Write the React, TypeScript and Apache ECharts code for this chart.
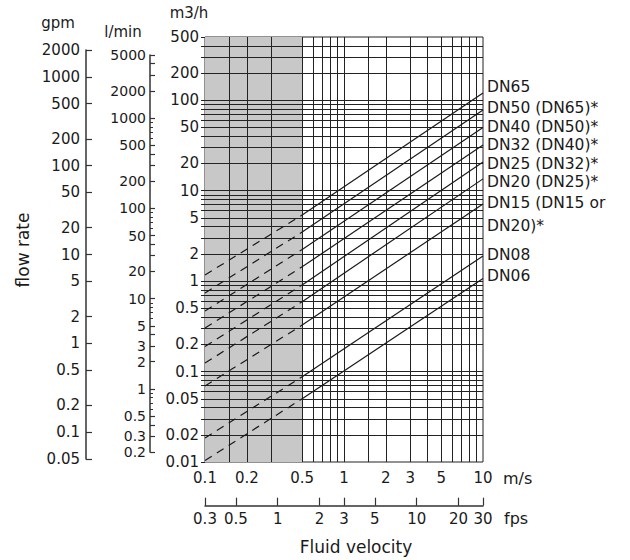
import React, { useEffect, useRef } from "react";
import * as echarts from "echarts";

// ---- data ----
const dnNames = [
  "DN65",
  "DN50 (DN65)*",
  "DN40 (DN50)*",
  "DN32 (DN40)*",
  "DN25 (DN32)*",
  "DN20 (DN25)*",
  "DN15 (DN15 or\nDN20)*",
  "DN08",
  "DN06",
];
// flow rate in m3/h at the velocities 0.1, 0.5 and 10 m/s
const velocities = [0.1, 0.5, 10];
const flowAt01 = [1.17, 0.739, 0.468, 0.303, 0.189, 0.124, 0.0693, 0.01845, 0.0104];
const flowAt05 = [5.38, 3.49, 2.24, 1.44, 0.906, 0.593, 0.327, 0.0877, 0.0501];
const flowAt10 = [120.2, 78.0, 49.9, 32.0, 20.7, 13.5, 7.13, 1.9, 1.07];

const greyZone = [0.1, 0.5];

const msLabels = [0.1, 0.2, 0.5, 1, 2, 3, 5, 10];
const fpsLabels = [0.3, 0.5, 1, 2, 3, 5, 10, 20, 30];
const m3hLabels = [500, 200, 100, 50, 20, 10, 5, 2, 1, 0.5, 0.2, 0.1, 0.05, 0.02, 0.01];
const gpmLabels = [2000, 1000, 500, 200, 100, 50, 20, 10, 5, 2, 1, 0.5, 0.2, 0.1, 0.05];
const lminLabels = [5000, 2000, 1000, 500, 200, 100, 50, 20, 10, 5, 3, 2, 1, 0.5, 0.3, 0.2];
const lminTicks = [5000, 4000, 3000, 2000, 1000, 500, 400, 300, 200, 100, 50, 40, 30, 20, 10, 5, 4, 3, 2, 1, 0.5, 0.4, 0.3, 0.2];
const lminMinorTicks = [900, 800, 700, 600, 90, 80, 70, 60, 9, 8, 7, 6, 0.9, 0.8, 0.7, 0.6];

const xGrid = [0.15, 0.2, 0.3, 0.5, 0.6, 0.7, 0.8, 0.9, 1, 1.5, 2, 3, 4, 5, 6, 7, 8, 9];
const yGrid = [
  0.02, 0.03, 0.04, 0.05, 0.06, 0.07, 0.08, 0.09,
  0.1, 0.2, 0.3, 0.4, 0.5, 0.6, 0.7, 0.8, 0.9,
  1, 2, 3, 4, 5, 6, 7, 8, 9,
  10, 20, 30, 40, 50, 60, 70, 80, 90,
  100, 200, 300, 400,
];
const yTicks = [0.01, ...yGrid, 500];

// ---- styling ----
const FONT = '"DejaVu Sans", "Liberation Sans", sans-serif';
const INK = "#1a1a1a";
const labelDy = [-6, -2, -1, 0, 2, 3, 11, -1, -2];

const fmt = (v: number) => String(parseFloat(Number(v).toPrecision(6)));

export default function App() {
  const ref = useRef<HTMLDivElement>(null);

  useEffect(() => {
    if (!ref.current) return;
    const chart = echarts.init(ref.current, null, { renderer: "svg" });

    const lineSeries: any[] = [];
    dnNames.forEach((name, i) => {
      const multi = name.indexOf("\n") >= 0;
      lineSeries.push({
        type: "line",
        name: name + "-dash",
        xAxisIndex: 0,
        yAxisIndex: 0,
        data: [
          [velocities[0], flowAt01[i]],
          [velocities[1], flowAt05[i]],
        ],
        showSymbol: false,
        symbol: "none",
        silent: true,
        z: 6,
        lineStyle: { color: INK, width: 1.2, type: [8, 6] },
      });
      lineSeries.push({
        type: "line",
        name,
        xAxisIndex: 0,
        yAxisIndex: 0,
        data: [
          [velocities[1], flowAt05[i]],
          [velocities[2], flowAt10[i]],
        ],
        showSymbol: false,
        symbol: "none",
        silent: true,
        z: 6,
        lineStyle: { color: INK, width: 1.2, type: "solid" },
        endLabel: {
          show: true,
          formatter: name,
          color: INK,
          fontSize: 15.5,
          fontFamily: FONT,
          lineHeight: multi ? 23 : 15,
          distance: 4,
          offset: [0, labelDy[i]],
        },
      });
    });

    const tickLabel = {
      color: INK,
      fontSize: 15,
      lineHeight: 14,
      fontFamily: FONT,
      formatter: fmt,
    };
    const axisLineStyle = { color: "#333", width: 1.5 };

    const option: any = {
      animation: false,
      textStyle: { fontFamily: FONT },
      grid: [
        { left: 205, top: 37, width: 278, height: 425, show: true, borderColor: "#222", borderWidth: 1 },
        { left: 86, top: 50, width: 10, height: 409 },
        { left: 150, top: 55, width: 10, height: 397 },
        { left: 205, top: 490, width: 278, height: 15.7 },
      ],
      xAxis: [
        {
          gridIndex: 0,
          type: "log",
          logBase: 10,
          min: 0.1,
          max: 10,
          axisLine: { show: false },
          axisTick: { show: false },
          splitLine: { show: false },
          axisLabel: { ...tickLabel, customValues: msLabels, margin: 9 },
        },
        { gridIndex: 1, type: "value", show: false },
        { gridIndex: 2, type: "value", show: false },
        {
          gridIndex: 3,
          type: "log",
          logBase: 10,
          min: 0.3,
          max: 30,
          position: "bottom",
          axisLine: { show: true, lineStyle: axisLineStyle },
          axisTick: { show: true, inside: true, length: 8, customValues: fpsLabels, lineStyle: { color: "#333", width: 1.2 } },
          splitLine: { show: false },
          axisLabel: { ...tickLabel, customValues: fpsLabels, margin: 6 },
        },
      ],
      yAxis: [
        {
          gridIndex: 0,
          type: "log",
          logBase: 10,
          min: 0.01,
          max: 500,
          axisLine: { show: false },
          axisTick: { show: true, length: 4, customValues: yTicks, lineStyle: { color: "#222", width: 1 } },
          splitLine: { show: false },
          axisLabel: { ...tickLabel, customValues: m3hLabels, margin: 6 },
        },
        {
          gridIndex: 1,
          type: "log",
          logBase: 10,
          min: 0.05,
          max: 2000,
          position: "left",
          axisLine: { show: true, lineStyle: axisLineStyle },
          axisTick: { show: true, inside: true, length: 6, customValues: gpmLabels, lineStyle: { color: "#333", width: 1.2 } },
          splitLine: { show: false },
          axisLabel: { ...tickLabel, customValues: gpmLabels, margin: 6 },
        },
        {
          gridIndex: 2,
          type: "log",
          logBase: 10,
          min: 0.2,
          max: 5000,
          position: "left",
          axisLine: { show: true, lineStyle: axisLineStyle },
          axisTick: { show: true, inside: true, length: 5, customValues: lminTicks, lineStyle: { color: "#333", width: 1.2 } },
          splitLine: { show: false },
          axisLabel: { ...tickLabel, fontSize: 14, lineHeight: 13, customValues: lminLabels, margin: 4 },
        },
        {
          gridIndex: 2,
          type: "log",
          logBase: 10,
          min: 0.2,
          max: 5000,
          position: "left",
          offset: 0,
          axisLine: { show: false },
          axisTick: { show: true, inside: true, length: 3, customValues: lminMinorTicks, lineStyle: { color: "#333", width: 1 } },
          splitLine: { show: false },
          axisLabel: { show: false },
        },
        { gridIndex: 3, type: "value", show: false },
      ],
      graphic: [
        { type: "text", x: 58, y: 23, style: { text: "gpm", fill: INK, font: `15px ${FONT}`, textAlign: "center", textVerticalAlign: "middle" } },
        { type: "text", x: 123, y: 32, style: { text: "l/min", fill: INK, font: `15px ${FONT}`, textAlign: "center", textVerticalAlign: "middle" } },
        { type: "text", x: 189, y: 13, style: { text: "m3/h", fill: INK, font: `15px ${FONT}`, textAlign: "center", textVerticalAlign: "middle" } },
        { type: "text", x: 23, y: 250, rotation: Math.PI / 2, style: { text: "flow rate", fill: INK, font: `17px ${FONT}`, textAlign: "center", textVerticalAlign: "middle" } },
        { type: "text", x: 503, y: 478, style: { text: "m/s", fill: INK, font: `16px ${FONT}`, textAlign: "left", textVerticalAlign: "middle" } },
        { type: "text", x: 504, y: 518, style: { text: "fps", fill: INK, font: `16px ${FONT}`, textAlign: "left", textVerticalAlign: "middle" } },
        { type: "text", x: 356, y: 547, style: { text: "Fluid velocity", fill: INK, font: `17px ${FONT}`, textAlign: "center", textVerticalAlign: "middle" } },
      ],
      series: [
        {
          type: "line",
          name: "grid",
          xAxisIndex: 0,
          yAxisIndex: 0,
          data: [[0.1, 0.01]],
          showSymbol: false,
          symbol: "none",
          silent: true,
          lineStyle: { width: 0 },
          z: 1,
          markArea: {
            silent: true,
            itemStyle: { color: "#c8c8c8" },
            data: [[{ xAxis: greyZone[0] }, { xAxis: greyZone[1] }]],
          },
          markLine: {
            silent: true,
            symbol: ["none", "none"],
            label: { show: false },
            emphasis: { disabled: true },
            lineStyle: { color: "#222", width: 1, type: "solid" },
            data: [
              ...xGrid.map((v) => ({ xAxis: v })),
              ...yGrid.map((v) => ({ yAxis: v })),
            ],
          },
        },
        ...lineSeries,
      ],
    };

    chart.setOption(option);
    return () => chart.dispose();
  }, []);

  return (
    <div
      ref={ref}
      style={{ position: "fixed", left: 0, top: 0, width: 630, height: 560, background: "#fff" }}
    />
  );
}
